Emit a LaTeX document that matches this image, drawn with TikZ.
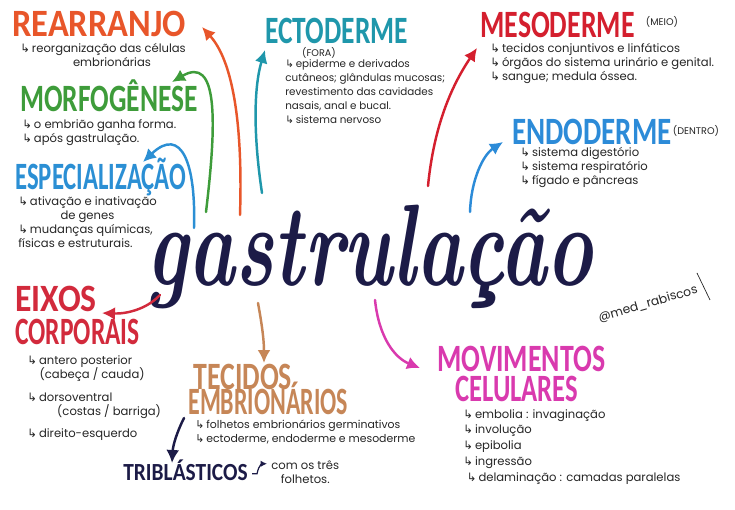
\documentclass[tikz,border=0pt]{standalone}
\usepackage{fontspec}
\usetikzlibrary{arrows.meta,positioning,calc}
\newfontfamily\titlef{Carlito}
\newfontfamily\handf{Poppins}
\newfontfamily\symf{DejaVu Sans}
\newcommand{\hk}{{\symf\char"21B3}\,}
\newcommand{\sqz}[2]{\scalebox{#1}[1]{#2}}
\definecolor{orng}{HTML}{E8562A}
\definecolor{grn}{HTML}{3E9C3A}
\definecolor{blu}{HTML}{2B8FD4}
\definecolor{teal}{HTML}{1F97AB}
\definecolor{rd}{HTML}{D41F2E}
\definecolor{eblu}{HTML}{2C8BD8}
\definecolor{crim}{HTML}{D22A3C}
\definecolor{tan}{HTML}{C68657}
\definecolor{mag}{HTML}{D93AAE}
\definecolor{navy}{HTML}{1C1B47}
\definecolor{ink}{HTML}{262626}
\tikzset{
  title/.style={anchor=base west,inner sep=0pt,
    font=\titlef\bfseries\fontsize{22}{22}\selectfont},
  note/.style={anchor=north west,inner sep=0pt,align=left,text=ink,
    font=\handf\fontsize{6.6}{8}\selectfont},
  tag/.style={inner sep=0pt,text=ink,font=\handf\fontsize{5.5}{6}\selectfont},
  link/.style={-{Latex[length=2.6mm,width=2.6mm]},line width=1.4pt,line cap=round},
  hooklink/.style={-{Latex[length=1.3mm,width=1.3mm]},line width=0.7pt,navy}
}
\begin{document}
\begin{tikzpicture}[x=0.02cm,y=-0.02cm]
  \fill[white] (0,0) rectangle (735,510);
  \useasboundingbox (0,0) rectangle (735,510);
  % centre word
  \node[text=navy,font=\fontsize{66}{66}\selectfont\bfseries\itshape] (gastr) at (370,257)
    {\sqz{0.68}{gastrulação}};
  % left column
  \node[title,text=orng] (rearr) at (12,37) {\sqz{0.89}{REARRANJO}};
  \node[note] (rearrTxt) at (20,43) {\hk reorganização das células\\\hspace*{30pt}embrionárias};
  \node[title,text=grn] (morfo) at (20,112) {\sqz{0.71}{MORFOGÊNESE}};
  \node[note] (morfoTxt) at (22,119) {\hk o embrião ganha forma.\\\hk após gastrulação.};
  \node[title,text=blu] (espec) at (15,190) {\sqz{0.64}{ESPECIALIZAÇÃO}};
  \node[note] (especTxt) at (18,196)
    {\hk ativação e inativação\\\hspace*{24pt}de genes\\\hk mudanças químicas,\\físicas e estruturais.};
  \node[title,text=crim] (eixos) at (15,312) {\sqz{0.87}{EIXOS}};
  \node[title,text=crim] (corp) at (15,345) {\sqz{0.66}{CORPORAIS}};
  \node[note] (eixosTxt) at (27,355)
    {\hk antero posterior\\\hspace*{7pt}(cabeça / cauda)\\[5pt]\hk dorsoventral\\
     \hspace*{17pt}(costas / barriga)\\[5pt]\hk direito-esquerdo};
  % top
  \node[title,text=teal] (ecto) at (265,44) {\sqz{0.71}{ECTODERME}};
  \node[tag] (ectoTag) at (319,53) {(FORA)};
  \node[note,font=\handf\fontsize{5.9}{8}\selectfont] (ectoTxt) at (285,59)
    {\hk epiderme e derivados\\cutâneos; glândulas mucosas;\\revestimento das cavidades\\
     nasais, anal e bucal.\\\hk sistema nervoso};
  \node[title,text=rd] (meso) at (480,38) {\sqz{0.72}{MESODERME}};
  \node[tag] (mesoTag) at (662,22) {(MEIO)};
  \node[note] (mesoTxt) at (490,43)
    {\hk tecidos conjuntivos e linfáticos\\\hk órgãos do sistema urinário e genital.\\
     \hk sangue; medula óssea.};
  \node[title,text=eblu] (endo) at (512,145) {\sqz{0.75}{ENDODERME}};
  \node[tag] (endoTag) at (696,131) {(DENTRO)};
  \node[note] (endoTxt) at (520,147)
    {\hk sistema digestório\\\hk sistema respiratório\\\hk fígado e pâncreas};
  % bottom
  \node[title,text=tan] (tec) at (193,390) {\sqz{0.72}{TECIDOS}};
  \node[title,text=tan] (embr) at (188,415) {\sqz{0.62}{EMBRIONÁRIOS}};
  \node[note,font=\handf\fontsize{6.2}{8}\selectfont] (tecTxt) at (195,420)
    {\hk folhetos embrionários germinativos\\\hk ectoderme, endoderme e mesoderme};
  \node[title,text=navy,font=\titlef\bfseries\fontsize{14}{14}\selectfont] (tribl) at (123,480)
    {\sqz{0.87}{TRIBLÁSTICOS}};
  \node[note,align=center] (triblTxt) at (271,460) {com os três\\folhetos.};
  \node[title,text=mag] (movim) at (437,372) {\sqz{0.72}{MOVIMENTOS}};
  \node[title,text=mag] (celul) at (455,402) {\sqz{0.69}{CELULARES}};
  \node[note,font=\handf\fontsize{6.6}{9}\selectfont] (movimTxt) at (463,409)
    {\hk embolia : invaginação\\\hk involução\\\hk epibolia\\\hk ingressão\\
     \hspace*{2pt}\hk delaminação : camadas paralelas};
  \node[tag,rotate=16,font=\handf\fontsize{7}{8}\selectfont] (handle) at (648,304) {@med\_rabiscos};
  \draw[ink,thin] (697,273) -- (710,300);
  % arrow ends
  \coordinate (gRearr) at (240,215);  \coordinate (toRearr) at (202,27);
  \coordinate (gMorfo) at (206,212);  \coordinate (toMorfo) at (172,82);
  \coordinate (gEspec) at (194,228);  \coordinate (toEspec) at (143,162);
  \coordinate (gEcto) at (262,193);   \coordinate (toEcto) at (265,50);
  \coordinate (gMeso) at (428,186);   \coordinate (toMeso) at (477,48);
  \coordinate (gEndo) at (470,212);   \coordinate (toEndo) at (503,142);
  \coordinate (gEixos) at (160,295);  \coordinate (toEixos) at (102,313);
  \coordinate (gTec) at (258,303);    \coordinate (toTec) at (264,363);
  \coordinate (gMovim) at (375,300);  \coordinate (toMovim) at (420,368);
  \coordinate (fromTec) at (184,418); \coordinate (toTribl) at (172,463);
  \draw[link,orng] (gRearr) .. controls (243,120) and (232,60) .. (toRearr);
  \draw[link,grn] (gMorfo) .. controls (217,120) and (218,55) .. (toMorfo);
  \draw[link,blu] (gEspec) .. controls (196,165) and (182,125) .. (toEspec);
  \draw[link,teal] (gEcto) .. controls (254,140) and (253,90) .. (toEcto);
  \draw[link,rd] (gMeso) .. controls (434,125) and (452,85) .. (toMeso);
  \draw[link,eblu] (gEndo) .. controls (471,180) and (483,155) .. (toEndo);
  \draw[link,crim] (gEixos) .. controls (146,310) and (125,314) .. (toEixos);
  \draw[link,tan] (gTec) .. controls (262,325) and (264,340) .. (toTec);
  \draw[link,mag] (gMovim) .. controls (379,338) and (395,358) .. (toMovim);
  \draw[link,navy] (fromTec) .. controls (177,432) and (173,445) .. (toTribl);
  \draw[hooklink] ([shift={(4,4)}]tribl.east) -- ++(5,0) .. controls +(2,-10) and +(-4,0) .. ++(10,-10);
\end{tikzpicture}
\end{document}
